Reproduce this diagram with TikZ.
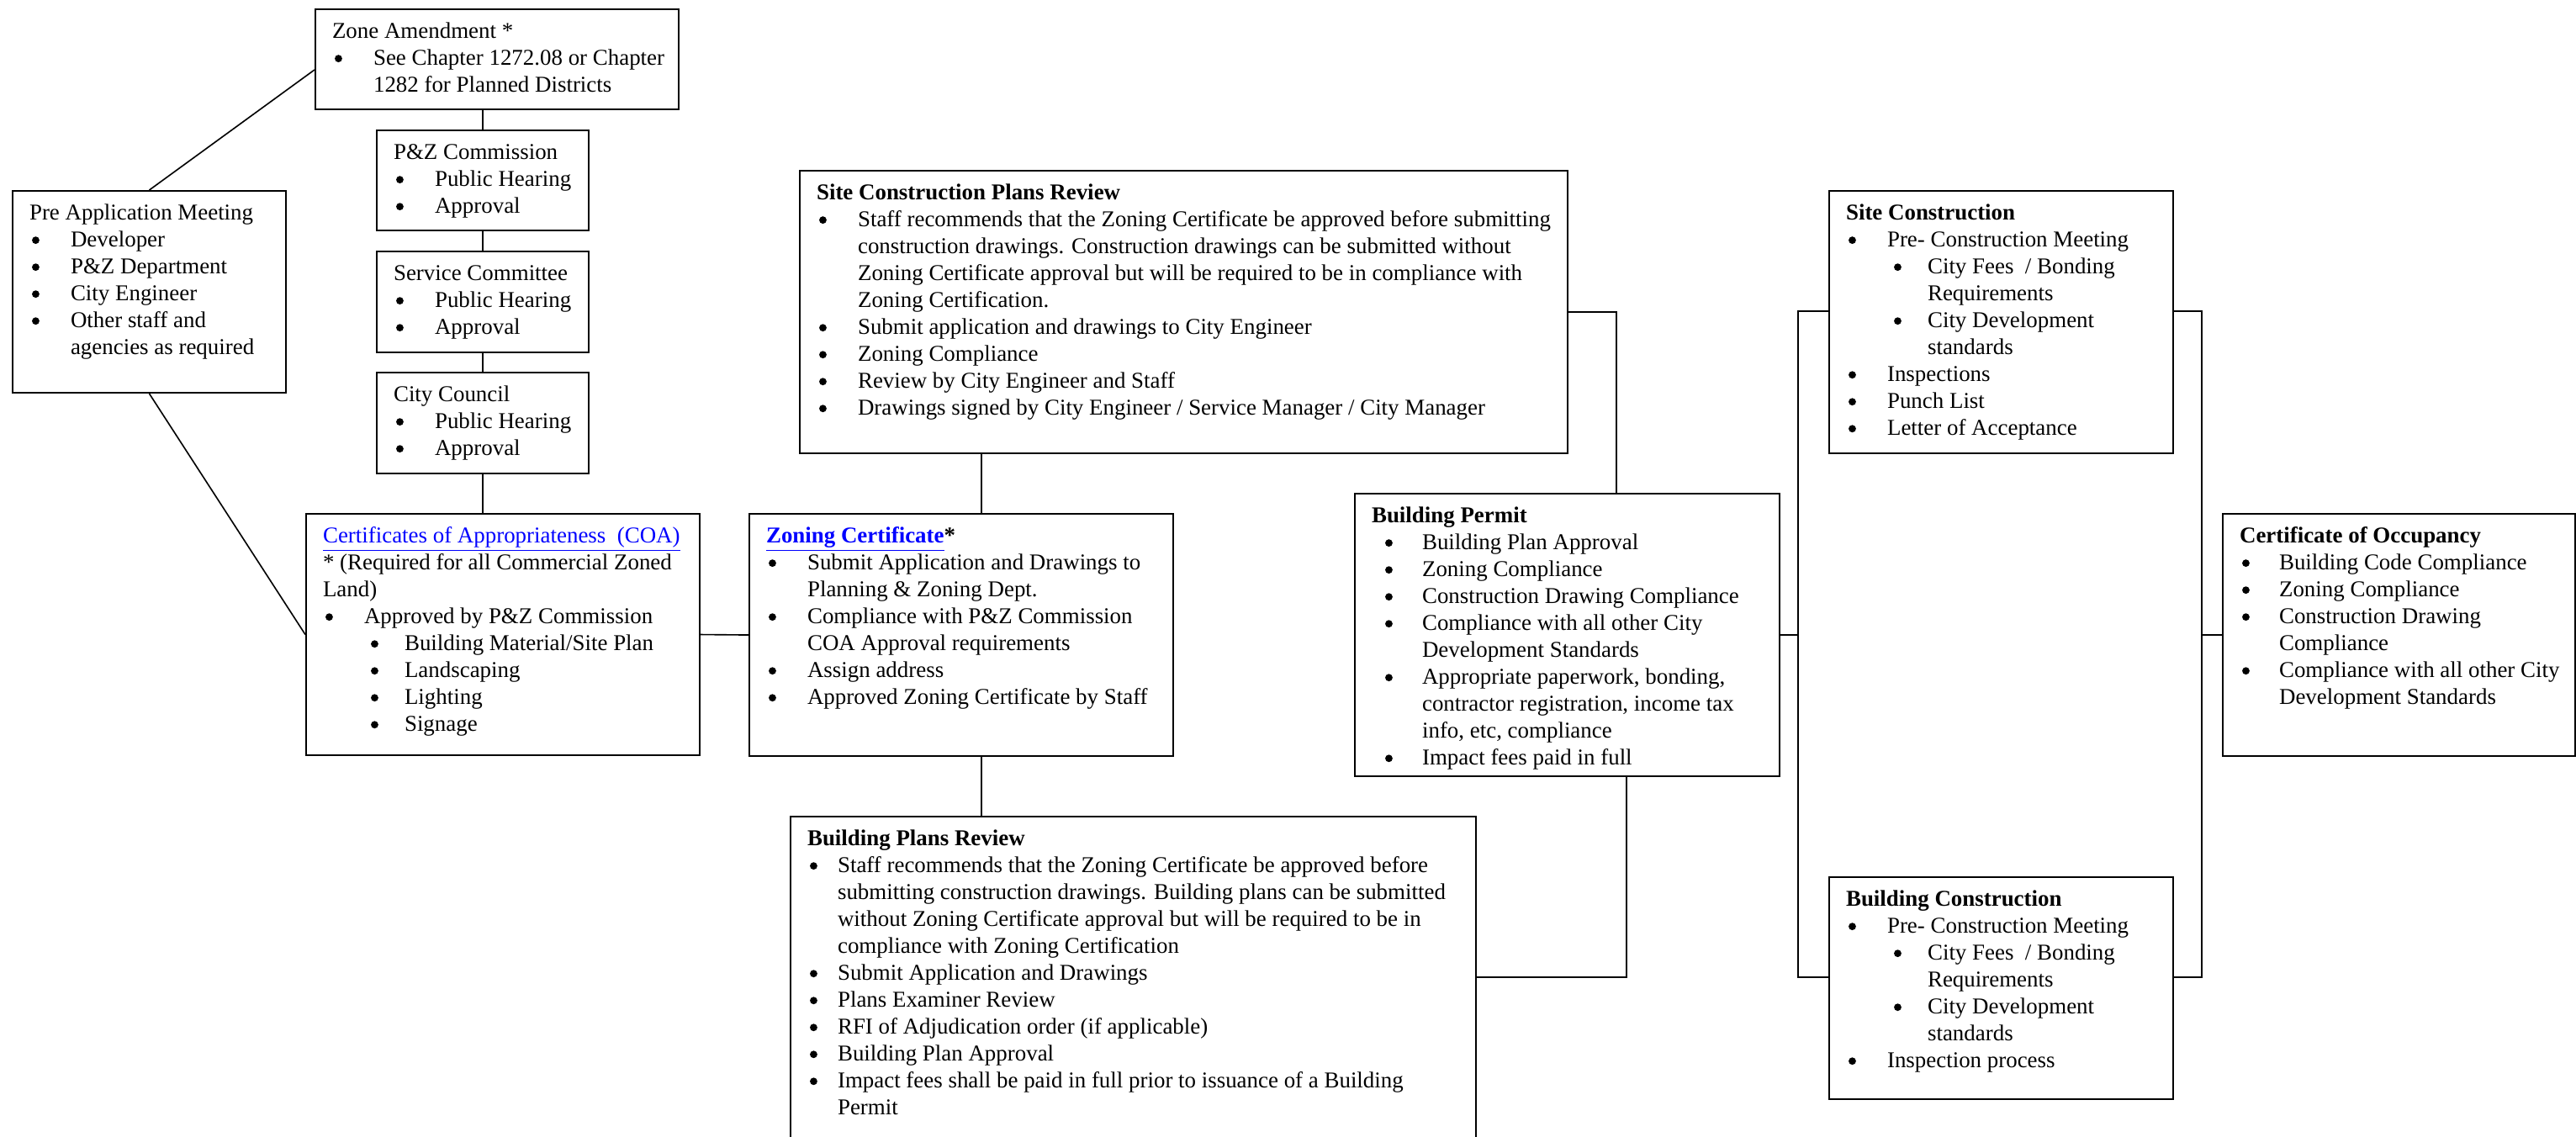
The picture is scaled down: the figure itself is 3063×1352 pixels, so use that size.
\documentclass[tikz,border=0pt]{standalone}
\usepackage{fontspec}
\setmainfont{Liberation Serif}
\usepackage{xcolor}
\usepackage{tikz}
\definecolor{linkblue}{RGB}{0,0,255}
\newlength{\px}
\setlength{\px}{0.431pt}
% box text: width, height (px), contents
\newcommand{\boxtxt}[3]{%
  \begin{minipage}[t][#2\px][t]{#1\px}%
    \fontsize{11.6}{13.8}\selectfont\raggedright\leftskip=20\px\relax
    \vspace*{11.6\px}\strut #3%
  \end{minipage}}
\newcommand{\dotmark}{\tikz[baseline=0pt]\fill (0,3.2pt) circle[radius=1.9pt];}
\newcommand{\bitem}[3]{\par\hangindent=#2\px\hangafter=1\noindent\hspace*{#1\px}\makebox[\dimexpr #2\px-#1\px\relax][l]{\dotmark}#3}
\newcommand{\bul}[1]{\bitem{3}{49}{#1}}
\newcommand{\subbul}[1]{\bitem{57}{97}{#1}}
\tikzset{
  nd_box/.style = {draw=black, line width=0.9pt, anchor=north west, inner sep=0pt},% step box
  nd_link/.style = {draw=black, line width=0.7pt}% connector
}
\begin{document}
\begin{tikzpicture}[x=\px, y=-\px]
\useasboundingbox (0,0) rectangle (3063,1352);
% left column
\node [nd_box] (preapp) at (14,226) {\boxtxt{325}{240}{Pre Application Meeting
  \bul{Developer}\bul{P\&Z Department}\bul{City Engineer}
  \bul{Other staff and\newline agencies as required}}};
\node [nd_box] (zone) at (374,10) {\boxtxt{432}{119}{Zone Amendment *
  \bul{See Chapter 1272.08 or Chapter\newline 1282 for Planned Districts}}};
\node [nd_box] (pzc) at (447,154) {\boxtxt{252}{119}{P\&Z Commission
  \bul{Public Hearing}\bul{Approval}}};
\node [nd_box] (svc) at (447,298) {\boxtxt{252}{120}{Service Committee
  \bul{Public Hearing}\bul{Approval}}};
\node [nd_box] (council) at (447,442) {\boxtxt{252}{120}{City Council
  \bul{Public Hearing}\bul{Approval}}};
\node [nd_box] (coa) at (363,610) {\boxtxt{468}{287}{\textcolor{linkblue}{\underline{Certificates of Appropriateness\ \ (COA)}}
  \par * (Required for all Commercial Zoned\newline Land)
  \bul{Approved by P\&Z Commission}
  \subbul{Building Material/Site Plan}\subbul{Landscaping}\subbul{Lighting}\subbul{Signage}}};
% middle column
\node [nd_box] (zcert) at (890,610) {\boxtxt{504}{288}{\textbf{\textcolor{linkblue}{\underline{Zoning Certificate}}*}
  \bul{Submit Application and Drawings to\newline Planning \& Zoning Dept.}
  \bul{Compliance with P\&Z Commission\newline COA Approval requirements}
  \bul{Assign address}\bul{Approved Zoning Certificate by Staff}}};
\node [nd_box] (siteplans) at (950,202) {\boxtxt{913}{336}{\textbf{Site Construction Plans Review}
  \bul{Staff recommends that the Zoning Certificate be approved before submitting\newline
    construction drawings. Construction drawings can be submitted without\newline
    Zoning Certificate approval but will be required to be in compliance with\newline
    Zoning Certification.}
  \bul{Submit application and drawings to City Engineer}
  \bul{Zoning Compliance}
  \bul{Review by City Engineer and Staff}
  \bul{Drawings signed by City Engineer / Service Manager / City Manager}}};
\node [nd_box] (bldgplans) at (939,970) {\boxtxt{815}{400}{\textbf{Building Plans Review}
  \bitem{3}{36}{Staff recommends that the Zoning Certificate be approved before\newline
    submitting construction drawings. Building plans can be submitted\newline
    without Zoning Certificate approval but will be required to be in\newline
    compliance with Zoning Certification}
  \bitem{3}{36}{Submit Application and Drawings}
  \bitem{3}{36}{Plans Examiner Review}
  \bitem{3}{36}{RFI of Adjudication order (if applicable)}
  \bitem{3}{36}{Building Plan Approval}
  \bitem{3}{36}{Impact fees shall be paid in full prior to issuance of a Building\newline Permit}}};
\node [nd_box] (permit) at (1610,586) {\boxtxt{505}{336}{\textbf{Building Permit}
  \bitem{16}{60}{Building Plan Approval}
  \bitem{16}{60}{Zoning Compliance}
  \bitem{16}{60}{Construction Drawing Compliance}
  \bitem{16}{60}{Compliance with all other City\newline Development Standards}
  \bitem{16}{60}{Appropriate paperwork, bonding,\newline contractor registration, income tax\newline info, etc, compliance}
  \bitem{16}{60}{Impact fees paid in full}}};
% right column
\node [nd_box] (sitecon) at (2174,226) {\boxtxt{409}{312}{\textbf{Site Construction}
  \bul{Pre- Construction Meeting}
  \subbul{City Fees\ \ / Bonding\newline Requirements}
  \subbul{City Development\newline standards}
  \bul{Inspections}\bul{Punch List}\bul{Letter of Acceptance}}};
\node [nd_box] (bldgcon) at (2174,1042) {\boxtxt{409}{264}{\textbf{Building Construction}
  \bul{Pre- Construction Meeting}
  \subbul{City Fees\ \ / Bonding\newline Requirements}
  \subbul{City Development\newline standards}
  \bul{Inspection process}}};
\node [nd_box] (occup) at (2642,610) {\boxtxt{419}{288}{\textbf{Certificate of Occupancy}
  \bitem{3}{47}{Building Code Compliance}
  \bitem{3}{47}{Zoning Compliance}
  \bitem{3}{47}{Construction Drawing\newline Compliance}
  \bitem{3}{47}{Compliance with all other City\newline Development Standards}}};
% connectors
\draw [nd_link] (preapp.north) -- (zone.west |- 0,83);
\draw [nd_link] (preapp.south) -- (coa.west);
\draw [nd_link] (pzc.north |- zone.south) -- (pzc.north);
\draw [nd_link] (pzc.south) -- (svc.north);
\draw [nd_link] (svc.south) -- (council.north);
\draw [nd_link] (council.south) -- (council.south |- coa.north);
\draw [nd_link] (coa.east) -- (zcert.west);
\draw [nd_link] (siteplans.south -| 1167,0) -- (zcert.north -| 1167,0);
\draw [nd_link] (zcert.south -| 1167,0) -- (bldgplans.north -| 1167,0);
\draw [nd_link] (siteplans.east) -| (permit.north -| 1922,0);
\draw [nd_link] (permit.south -| 1934,0) |- (bldgplans.east |- 0,1162);
\coordinate (busl_t) at (2138,370);
\coordinate (busl_b) at (2138,1162);
\coordinate (busr_t) at (2618,370);
\coordinate (busr_b) at (2618,1162);
\draw [nd_link] (sitecon.west |- busl_t) -- (busl_t) -- (busl_b) -- (bldgcon.west |- busl_b);
\draw [nd_link] (permit.east) -- (permit.east -| busl_t);
\draw [nd_link] (sitecon.east |- busr_t) -- (busr_t) -- (busr_b) -- (bldgcon.east |- busr_b);
\draw [nd_link] (occup.west) -- (occup.west -| busr_t);
\end{tikzpicture}
\end{document}
